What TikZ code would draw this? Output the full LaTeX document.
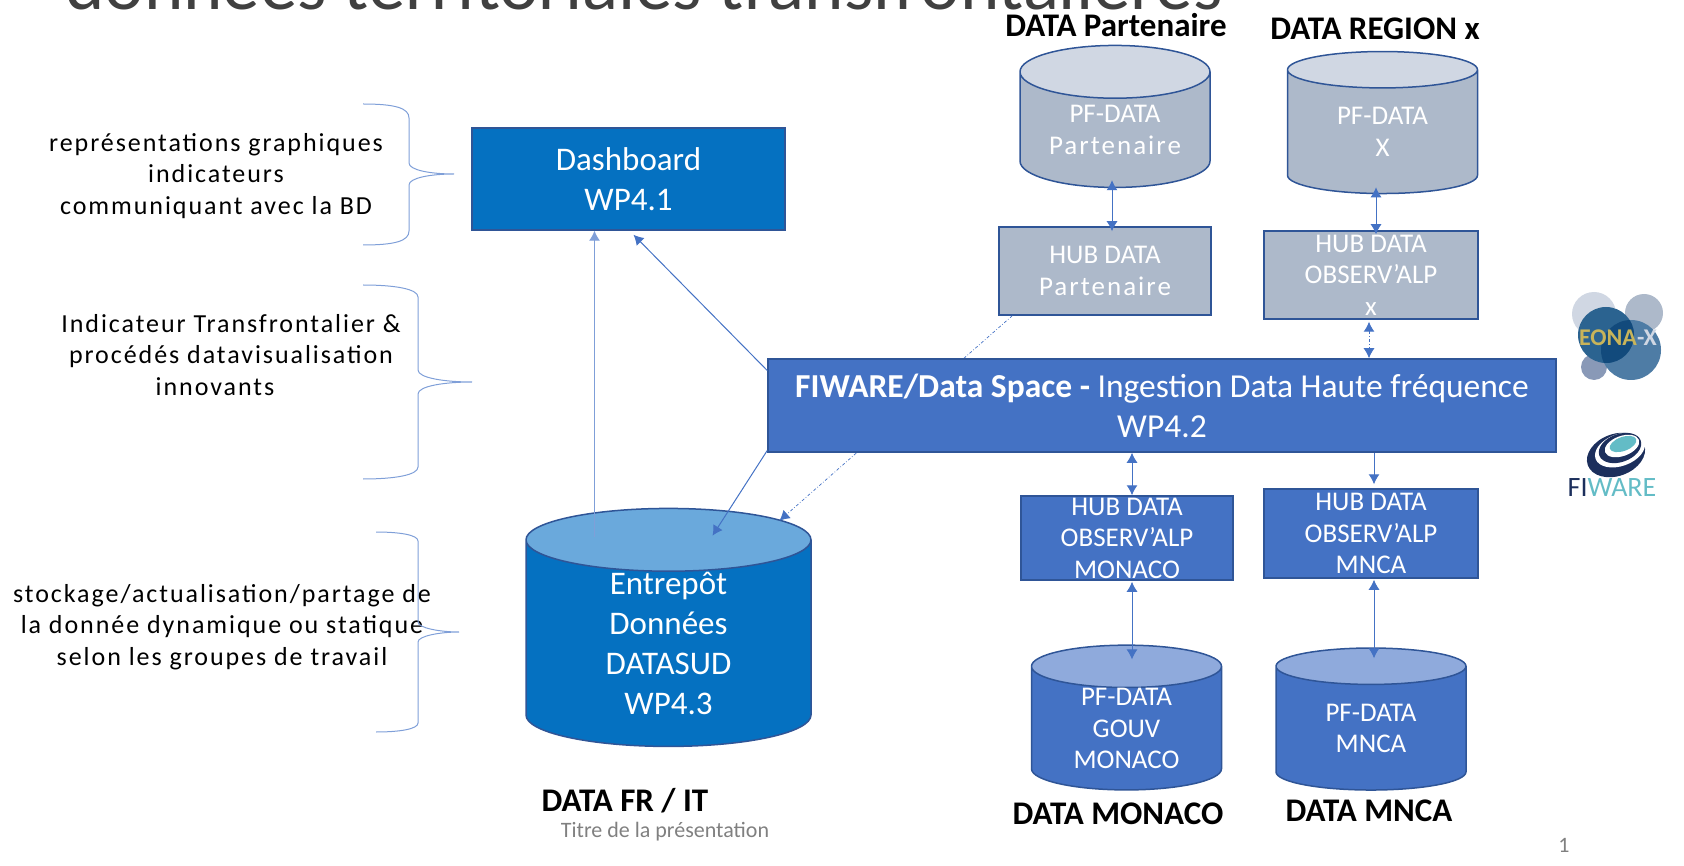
\documentclass[tikz,border=0pt]{standalone}
\usepackage{fontspec}
\setmainfont{Carlito}
\newfontfamily\spacedfont[LetterSpace=7.5]{Carlito}
\usetikzlibrary{positioning,arrows.meta,shapes.geometric}
\definecolor{wpblue}{HTML}{0571C1}
\definecolor{wptop}{HTML}{6AA9DC}
\definecolor{hubblue}{HTML}{4472C4}
\definecolor{hubtop}{HTML}{8FAADC}
\definecolor{greyblue}{HTML}{ADB9CA}
\definecolor{greytop}{HTML}{D0D7E3}
\definecolor{edgeblue}{HTML}{2F5597}
\definecolor{bracecol}{HTML}{7F9FD8}
\definecolor{logonavy}{HTML}{1C2F5C}
\definecolor{logocyan}{HTML}{63BCC6}
\definecolor{eonamain}{HTML}{2B6390}
\definecolor{eonadark}{HTML}{124A7C}
\definecolor{eonaright}{HTML}{4E7CA5}
\definecolor{eonayellow}{HTML}{C8B45A}
\tikzset{
    module/.style={%
        draw=edgeblue, line width=1.5,
        text=white, align=center,
        font=\fontsize{27}{31.5}\selectfont,
        inner sep=0pt
        },
    store/.style={%
        module, cylinder, shape border rotate=90,
        cylinder uses custom fill, aspect=0.4,
        minimum width=190, minimum height=142
        },
    datalabel/.style={font=\fontsize{33}{36}\selectfont\bfseries},
    sidetext/.style={align=center, font=\fontsize{26}{31.5}\selectfont\spacedfont},
    brace/.style={draw=bracecol, line width=1},
    flow/.style={draw=hubblue, line width=1},
    >={Latex[length=10pt,width=11pt]}
}

\begin{document}
\begin{tikzpicture}[x=1pt,y=-1pt]
\useasboundingbox (0,0) rectangle (1684,866);

\node[anchor=base west, inner sep=0pt, text=black!75, font=\fontsize{75}{80}\selectfont] (Title) at (65,10) {données territoriales transfrontalières};

% text on the left
\node[sidetext] (TextDash) at (216,176) {représentations graphiques\\indicateurs\hspace*{34pt}\\communiquant avec la BD};
\node[sidetext] (TextFiware) at (231,355) {Indicateur Transfrontalier \&\\procédés datavisualisation\\innovants\hspace*{32pt}};
\node[sidetext] (TextStock) at (222,627) {stockage/actualisation/partage de\\la donnée dynamique ou statique\\selon les groupes de travail};

\draw[brace] (363,104) .. controls (395,104) and (409,108) .. (409,118) -- (409,163) .. controls (409,170) and (430,174) .. (454,174) .. controls (430,174) and (409,178) .. (409,185) -- (409,231) .. controls (409,241) and (395,245) .. (363,245);
\draw[brace] (363,285) .. controls (395,285) and (418,289) .. (418,297) -- (418,370) .. controls (418,378) and (445,382) .. (472,382) .. controls (445,382) and (418,386) .. (418,394) -- (418,467) .. controls (418,475) and (395,479) .. (363,479);
\draw[brace] (376,532) .. controls (400,532) and (418,535) .. (418,541) -- (418,622) .. controls (418,628) and (440,632) .. (459,632) .. controls (440,632) and (418,636) .. (418,642) -- (418,723) .. controls (418,729) and (400,732) .. (376,732);

% boxes
\node[module, fill=wpblue, minimum width=313, minimum height=102, font=\fontsize{33}{40}\selectfont] (Dashboard) at (628.5,179) {Dashboard\\WP4.1};

\node[store, cylinder body fill=wpblue, cylinder end fill=wptop, minimum width=285, minimum height=238, aspect=0.5, font=\fontsize{33}{40}\selectfont] (Entrepot) at (668.5,643.5) {Entrepôt\\Données\\DATASUD\\WP4.3};

\node[store, cylinder body fill=greyblue, cylinder end fill=greytop] (PFPart) at (1115,130) {PF-DATA\\{\spacedfont Partenaire}};
\node[store, cylinder body fill=greyblue, cylinder end fill=greytop] (PFRegion) at (1382.5,132) {PF-DATA\\X};
\node[store, cylinder body fill=hubblue, cylinder end fill=hubtop] (PFMonaco) at (1126.5,728.5) {PF-DATA\\GOUV\\MONACO};
\node[store, cylinder body fill=hubblue, cylinder end fill=hubtop] (PFMnca) at (1371,728.5) {PF-DATA\\MNCA};

\node[module, fill=greyblue, minimum width=212, minimum height=88] (HubPart) at (1105,271) {HUB DATA\\{\spacedfont Partenaire}};
\node[module, fill=greyblue, minimum width=214, minimum height=88] (HubRegion) at (1371,275) {HUB DATA\\OBSERV’ALP\\x};
\node[module, fill=hubblue, minimum width=212, minimum height=84] (HubMonaco) at (1127,538) {HUB DATA\\OBSERV’ALP\\MONACO};
\node[module, fill=hubblue, minimum width=214, minimum height=89] (HubMnca) at (1371,533.5) {HUB DATA\\OBSERV’ALP\\MNCA};

% dotted link passes behind the FIWARE box
\draw[flow, line width=.7, dash dot, ->] ([xshift=14pt]HubPart.south west) -- ([shift={(111pt,-13pt)}]Entrepot.north);

\node[module, fill=hubblue, minimum width=788, minimum height=93, font=\fontsize{33.5}{40}\selectfont] (Fiware) at (1162,405.5) {\textbf{FIWARE/Data Space -} Ingestion Data Haute fréquence\\WP4.2};

% connectors
\draw[flow, draw=bracecol, ->] ([shift={(-74pt,-29pt)}]Entrepot.north) -- ([xshift=-74pt]Entrepot.north |- Dashboard.south);
\draw[flow, ->] ([yshift=35pt]Fiware.west) -- ([shift={(5pt,-4pt)}]Dashboard.south);
\draw[flow, ->] ([yshift=-45pt]Fiware.west) -- ([shift={(44pt,-28pt)}]Entrepot.north);
\draw[flow, <->] ([shift={(7pt,-5pt)}]HubPart.north) -- ([shift={(7pt,8pt)}]HubPart.north |- PFPart.south);
\draw[flow, <->] ([shift={(5pt,-4pt)}]HubRegion.north) -- ([shift={(5pt,7pt)}]HubRegion.north |- PFRegion.south);
\draw[flow, <->, dash dot] ([shift={(-2pt,-2pt)}]HubRegion.south) -- ([xshift=-2pt]HubRegion.south |- Fiware.north);
\draw[flow, <->] ([xshift=5pt]HubMonaco.north) -- ([xshift=5pt]HubMonaco.north |- Fiware.south);
\draw[flow, ->] ([xshift=3pt]HubMnca.north |- Fiware.south) -- ([shift={(3pt,4pt)}]HubMnca.north);
\draw[flow, <->] ([shift={(5pt,-1pt)}]HubMonaco.south) -- ([shift={(5pt,-15pt)}]HubMonaco.south |- PFMonaco.north);
\draw[flow, <->] ([shift={(3pt,-1pt)}]HubMnca.south) -- ([shift={(3pt,-11pt)}]HubMnca.south |- PFMnca.north);

% labels
\node[datalabel] (LabelPart) at (1116,25) {DATA Partenaire};
\node[datalabel] (LabelRegion) at (1375,29) {DATA REGION x};
\node[datalabel] (LabelFr) at (625,801) {DATA FR / IT};
\node[datalabel] (LabelMonaco) at (1118,814) {DATA MONACO};
\node[datalabel] (LabelMnca) at (1369,811) {DATA MNCA};
\node[text=black!50, font=\fontsize{22}{24}\selectfont] (Footer) at (665,832) {Titre de la présentation};
\node[text=black!50, font=\fontsize{22}{24}\selectfont] (PageNo) at (1564,845) {1};

% EONA-X logo
\fill[color=greytop] (1594,314) circle[radius=22pt];
\fill[color=greyblue] (1644,313) circle[radius=19pt];
\fill[color=hubtop!60!gray] (1594,367) circle[radius=13pt];
\fill[color=eonaright] (1631,350) circle[radius=30pt];
\fill[color=eonamain] (1606,335) circle[radius=28pt];
\begin{scope}
\clip (1606,335) circle[radius=28pt];
\fill[color=eonadark] (1631,350) circle[radius=30pt];
\end{scope}
\node[font=\fontsize{24}{26}\selectfont\bfseries] (Eona) at (1618,338) {\textcolor{eonayellow}{EONA}\textcolor{greytop}{-X}};

% FIWARE logo
\fill[color=logonavy, rotate around={20:(1616,455)}] (1616,455) ellipse[x radius=30pt, y radius=21pt];
\fill[color=white, rotate around={20:(1620,450)}] (1620,450) ellipse[x radius=26pt, y radius=16pt];
\fill[color=logonavy, rotate around={20:(1620,448)}] (1620,448) ellipse[x radius=22pt, y radius=14pt];
\fill[color=white, rotate around={20:(1622,446)}] (1622,446) ellipse[x radius=18pt, y radius=10pt];
\fill[color=logocyan, rotate around={20:(1623,444)}] (1623,444) ellipse[x radius=14pt, y radius=7pt];
\node[font=\fontsize{28}{30}\selectfont] (FiwareLogo) at (1612,488) {\textcolor{logonavy}{FI}\textcolor{logocyan}{WARE}};

\end{tikzpicture}
\end{document}
